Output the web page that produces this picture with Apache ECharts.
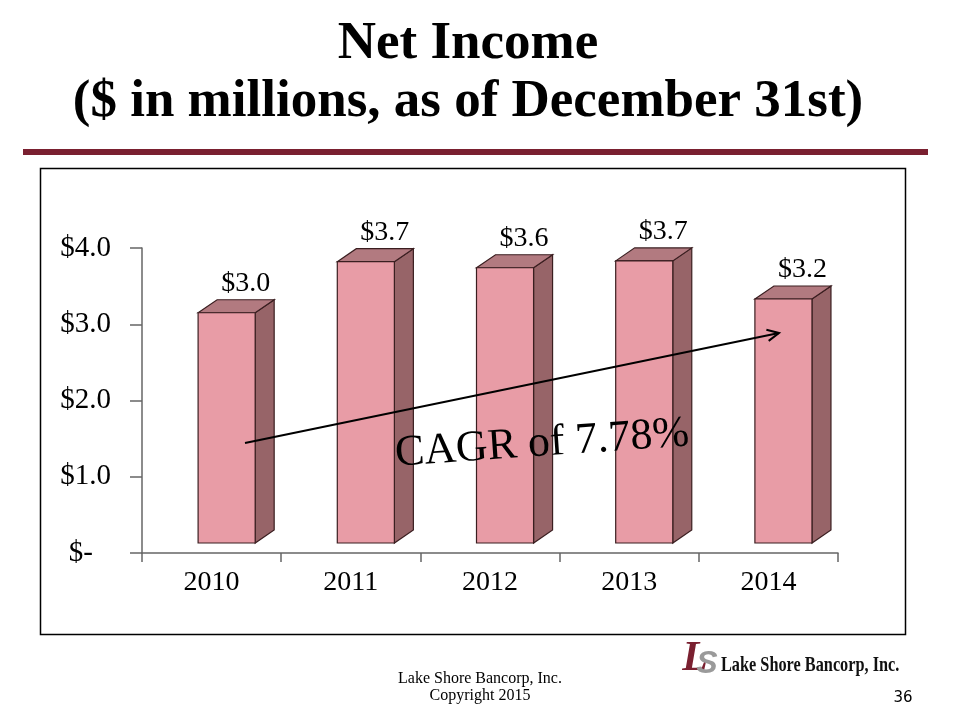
<!DOCTYPE html>
<html>
<head>
<meta charset="utf-8">
<script src="https://cdn.jsdelivr.net/npm/echarts@6/dist/echarts.min.js"></script>
<style>
html,body{margin:0;padding:0;background:#fff;}
#chart{width:960px;height:720px;}
</style>
</head>
<body>
<div id="chart"></div>
<script>
// ---- data ----
const years = ['2010', '2011', '2012', '2013', '2014'];
const netIncome = [3.02, 3.69, 3.61, 3.70, 3.20];
const yTickValues = [0, 1, 2, 3, 4];
const titleLines = ['Net Income', '($ in millions, as of December 31st)'];
const cagrText = 'CAGR of 7.78%';

const SERIF = '"Liberation Serif", "Times New Roman", serif';
const chart = echarts.init(document.getElementById('chart'), null, {renderer: 'canvas'});

const FRONT = '#E89CA6', SIDE = '#976468', TOP = '#B27A80', EDGE = '#3A1E20';
const DX = 19, DY = -13, FLOOR = 10;

function renderBar(params, api) {
  const ci = api.value(0), v = api.value(1);
  const base = api.coord([ci, 0]);
  const top = api.coord([ci, v]);
  const catW = api.size([1, 0])[0];
  const w = catW * 0.41;
  const xl = base[0] - catW * 0.097;
  const xr = xl + w;
  const yb = base[1] - FLOOR;
  const yt = top[1] - FLOOR;
  const st = {stroke: EDGE, lineWidth: 1.2};
  return {
    type: 'group',
    children: [
      {type: 'polygon', shape: {points: [[xr, yt], [xr + DX, yt + DY], [xr + DX, yb + DY], [xr, yb]]}, style: Object.assign({fill: SIDE}, st)},
      {type: 'polygon', shape: {points: [[xl, yt], [xl + DX, yt + DY], [xr + DX, yt + DY], [xr, yt]]}, style: Object.assign({fill: TOP}, st)},
      {type: 'rect', shape: {x: xl, y: yt, width: w, height: yb - yt}, style: Object.assign({fill: FRONT}, st)},
      {type: 'text', x: xl + w / 2 + DX, y: yt + DY - 2,
        style: {text: '$' + v.toFixed(1), font: '28px ' + SERIF, fill: '#000', align: 'center', verticalAlign: 'bottom'}}
    ]
  };
}

// arrow annotation
const a0 = [245, 443], a1 = [779, 333];
const ang = Math.atan2(a1[1] - a0[1], a1[0] - a0[0]);
const hl = 13, ha = 0.45;
const head = [
  [a1[0] - hl * Math.cos(ang - ha), a1[1] - hl * Math.sin(ang - ha)],
  a1,
  [a1[0] - hl * Math.cos(ang + ha), a1[1] - hl * Math.sin(ang + ha)]
];

const option = {
  animation: false,
  backgroundColor: '#fff',
  grid: {left: 142, right: 122, top: 248, bottom: 167, containLabel: false},
  xAxis: {
    type: 'category',
    data: years,
    axisLine: {lineStyle: {color: '#666', width: 1.5}},
    axisTick: {show: true, length: 9, lineStyle: {color: '#666', width: 1.5}},
    axisLabel: {color: '#000', fontFamily: SERIF, fontSize: 28, margin: 16}
  },
  yAxis: {
    type: 'value',
    min: 0, max: 4, interval: 1,
    axisLine: {show: true, lineStyle: {color: '#666', width: 1.5}},
    axisTick: {show: true, length: 12, lineStyle: {color: '#666', width: 1.5}},
    splitLine: {show: false},
    axisLabel: {
      color: '#000', fontFamily: SERIF, fontSize: 29, margin: 31,
      formatter: function (v) { return v === 0 ? '{d|$-}' : '$' + v.toFixed(1); },
      rich: {d: {fontFamily: SERIF, fontSize: 29, color: '#000', padding: [0, 18, 0, 0]}}
    }
  },
  series: [{
    type: 'custom',
    renderItem: renderBar,
    clip: false,
    data: netIncome.map((v, i) => [i, v]),
    encode: {x: 0, y: 1}
  }],
  graphic: [
    {type: 'text', x: 468, y: 44, style: {text: titleLines[0], font: 'bold 53px ' + SERIF, fill: '#000', align: 'center', verticalAlign: 'middle'}},
    {type: 'text', x: 468, y: 102, style: {text: titleLines[1], font: 'bold 53px ' + SERIF, fill: '#000', align: 'center', verticalAlign: 'middle'}},
    {type: 'rect', shape: {x: 23, y: 149, width: 905, height: 6}, style: {fill: '#7A2030'}},
    {type: 'rect', shape: {x: 40.5, y: 168.5, width: 865, height: 466}, style: {fill: 'none', stroke: '#000', lineWidth: 1.5}, z: -1},
    {type: 'line', shape: {x1: a0[0], y1: a0[1], x2: a1[0], y2: a1[1]}, style: {stroke: '#000', lineWidth: 2}, z: 100},
    {type: 'polyline', shape: {points: head}, style: {stroke: '#000', lineWidth: 2, fill: 'none'}, z: 100},
    {type: 'text', x: 542, y: 444, rotation: 4 * Math.PI / 180, originX: 0, originY: 0,
      style: {text: cagrText, font: '44px ' + SERIF, fill: '#000', align: 'center', verticalAlign: 'middle'}, z: 100},
    {type: 'text', x: 480, y: 679, style: {text: 'Lake Shore Bancorp, Inc.', font: '16px ' + SERIF, fill: '#000', align: 'center', verticalAlign: 'middle'}},
    {type: 'text', x: 480, y: 696, style: {text: 'Copyright 2015', font: '16px ' + SERIF, fill: '#000', align: 'center', verticalAlign: 'middle'}},
    {type: 'text', x: 903, y: 698, style: {text: '36', font: '15px "DejaVu Sans", sans-serif', fill: '#000', align: 'center', verticalAlign: 'middle'}},
    {type: 'text', x: 695, y: 659, style: {text: 'L', font: 'italic bold 42px ' + SERIF, fill: '#7A2030', align: 'center', verticalAlign: 'middle'}},
    {type: 'text', x: 707, y: 664, style: {text: 'S', font: 'italic bold 32px "Liberation Sans", sans-serif', fill: '#9A9A9A', align: 'center', verticalAlign: 'middle'}},
    {type: 'text', x: 721, y: 665, scaleX: 0.74, style: {text: 'Lake Shore Bancorp, Inc.', font: 'bold 22px ' + SERIF, fill: '#111', align: 'left', verticalAlign: 'middle'}}
  ]
};
chart.setOption(option);
</script>
</body>
</html>
